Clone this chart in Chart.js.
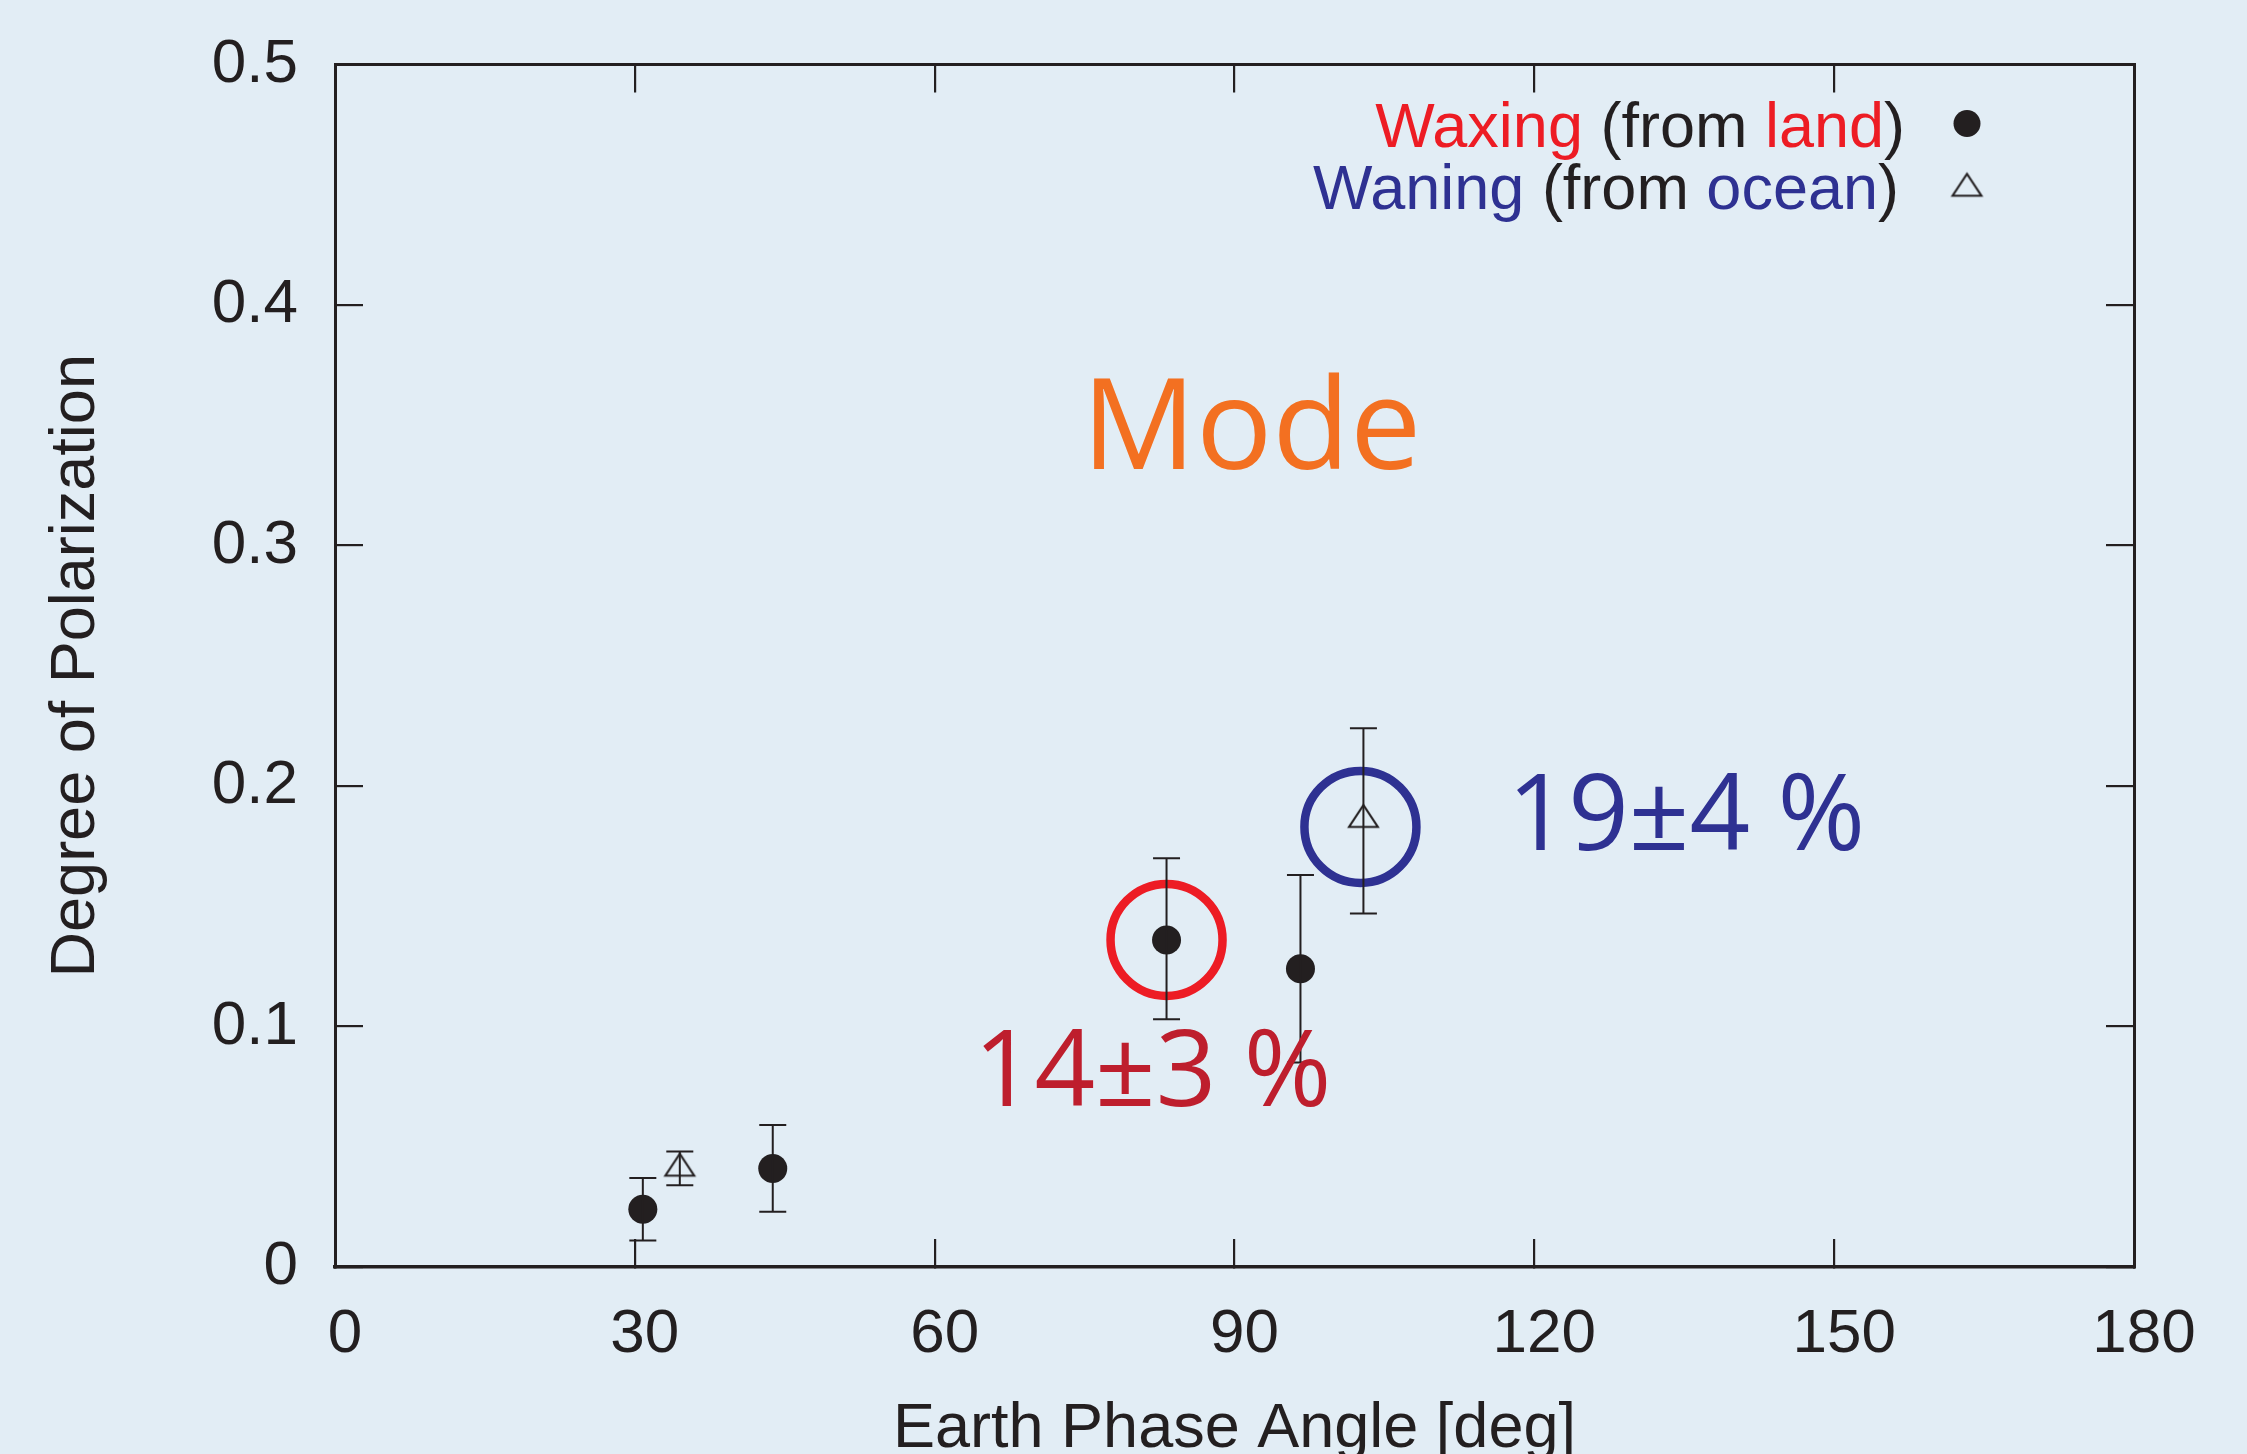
<!DOCTYPE html>
<html>
<head>
<meta charset="utf-8">
<script src="https://cdn.jsdelivr.net/npm/chart.js@4.4.1/dist/chart.umd.min.js"></script>
<style>
  html, body { margin: 0; padding: 0; background: #e2edf5; }
  #polChart { display: block; }
</style>
</head>
<body>
<canvas id="polChart" width="2247" height="1454"></canvas>
<script>
  // axes
  const xTickValues = [0, 30, 60, 90, 120, 150, 180];
  const xTickLabels = ['0', '30', '60', '90', '120', '150', '180'];
  const yTickValues = [0, 0.1, 0.2, 0.3, 0.4, 0.5];
  const yTickLabels = ['0', '0.1', '0.2', '0.3', '0.4', '0.5'];

  // waxing phase (from land) - filled circles
  const waxingAngle = [30.8, 43.8, 83.2, 96.6];
  const waxingDop = [0.024, 0.041, 0.136, 0.124];
  const waxingLow = [0.011, 0.023, 0.103, 0.085];
  const waxingHigh = [0.037, 0.059, 0.170, 0.163];

  // waning phase (from ocean) - open triangles
  const waningAngle = [34.5, 102.9];
  const waningDop = [0.041, 0.186];
  const waningLow = [0.034, 0.147];
  const waningHigh = [0.048, 0.224];

  // highlighted modes (rings + labels)
  const modeAngle = [83.2, 102.6];
  const modeDop = [0.136, 0.183];
  const modeText = ['14±3 %', '19±4 %'];

  const INK = '#231f20';
  const RED = '#ed1c24';
  const BLUE = '#2e3192';
  const HELV = '"Liberation Sans", Arial, Helvetica, sans-serif';
  const MYRIAD = '"Open Sans", "Noto Sans", sans-serif';

  Chart.defaults.font.family = HELV;
  Chart.defaults.color = INK;

  // open triangle marker, centroid sits at the canvas centre
  function makeTriangle(w, h, lw) {
    const c = document.createElement('canvas');
    c.width = Math.ceil(w + 2 * lw + 2);
    c.height = Math.ceil(4 * h / 3 + 2 * lw + 2);
    const g = c.getContext('2d');
    const cx = c.width / 2, cy = c.height / 2;
    g.strokeStyle = INK;
    g.lineWidth = lw;
    g.beginPath();
    g.moveTo(cx, cy - 2 * h / 3);
    g.lineTo(cx + w / 2, cy + h / 3);
    g.lineTo(cx - w / 2, cy + h / 3);
    g.closePath();
    g.stroke();
    return c;
  }
  const triangle = makeTriangle(29, 22, 2);

  const toPoints = (xs, ys) => xs.map((v, i) => ({ x: v, y: ys[i] }));

  // stop label overflow from pushing the plot area around
  const noPad = s => { s.paddingTop = 0; s.paddingBottom = 0; s.paddingLeft = 0; s.paddingRight = 0; };

  // vertical error bars with caps
  const errorBarPlugin = {
    id: 'errorBars',
    afterDatasetsDraw(chart, args, opts) {
      const { ctx, scales: { x, y } } = chart;
      ctx.save();
      ctx.strokeStyle = opts.color;
      ctx.lineWidth = opts.lineWidth;
      opts.sets.forEach(set => {
        set.angle.forEach((a, i) => {
          const px = x.getPixelForValue(a);
          const lo = y.getPixelForValue(set.low[i]);
          const hi = y.getPixelForValue(set.high[i]);
          ctx.beginPath();
          ctx.moveTo(px, lo); ctx.lineTo(px, hi);
          ctx.moveTo(px - opts.cap, lo); ctx.lineTo(px + opts.cap, lo);
          ctx.moveTo(px - opts.cap, hi); ctx.lineTo(px + opts.cap, hi);
          ctx.stroke();
        });
      });
      ctx.restore();
    }
  };

  // legend with coloured words + text annotations
  const notesPlugin = {
    id: 'notes',
    afterDraw(chart, args, opts) {
      const { ctx, chartArea, scales: { x, y } } = chart;
      ctx.save();

      // legend
      ctx.font = `${opts.legendSize}px ${HELV}`;
      ctx.textBaseline = 'alphabetic';
      ctx.textAlign = 'left';
      opts.legend.forEach(row => {
        const total = row.parts.reduce((s, p) => s + ctx.measureText(p[0]).width, 0);
        let cx = chartArea.right - row.endOffset - total;
        const by = chartArea.top + row.baseline;
        row.parts.forEach(p => {
          ctx.fillStyle = p[1];
          ctx.fillText(p[0], cx, by);
          cx += ctx.measureText(p[0]).width;
        });
        const mx = chartArea.right - opts.markerOffset;
        const my = chartArea.top + row.markerY;
        if (row.marker === 'circle') {
          ctx.fillStyle = INK;
          ctx.beginPath();
          ctx.arc(mx, my, 13.5, 0, Math.PI * 2);
          ctx.fill();
        } else {
          ctx.drawImage(triangle, mx - triangle.width / 2, my - triangle.height / 2);
        }
      });

      // "Mode"
      ctx.font = `${opts.mode.size}px ${MYRIAD}`;
      ctx.fillStyle = opts.mode.color;
      ctx.textAlign = 'center';
      ctx.fillText(opts.mode.text, x.getPixelForValue(opts.mode.x), y.getPixelForValue(opts.mode.y));

      // mode values
      ctx.textAlign = 'right';
      opts.values.forEach((v, i) => {
        ctx.font = `${v.size}px ${MYRIAD}`;
        ctx.fillStyle = v.color;
        ctx.fillText(modeText[i], x.getPixelForValue(v.x), y.getPixelForValue(v.y));
      });
      ctx.restore();
    }
  };

  const tickGrid = { drawOnChartArea: false, drawTicks: true, tickLength: -28, color: INK, lineWidth: 2.2 };
  const frame = { display: true, color: INK, width: 3 };

  new Chart(document.getElementById('polChart'), {
    type: 'scatter',
    data: {
      datasets: [
        {
          label: 'Waxing (from land)',
          data: toPoints(waxingAngle, waxingDop),
          pointStyle: 'circle',
          pointRadius: 14.5,
          backgroundColor: INK,
          borderColor: INK,
          pointBorderWidth: 0
        },
        {
          label: 'Waning (from ocean)',
          data: toPoints(waningAngle, waningDop),
          pointStyle: triangle,
          pointRadius: 15
        },
        {
          label: 'Mode',
          data: toPoints(modeAngle, modeDop),
          pointStyle: 'circle',
          pointRadius: 56,
          pointBorderWidth: 8.5,
          pointBorderColor: [RED, BLUE],
          pointBackgroundColor: 'rgba(0,0,0,0)'
        }
      ]
    },
    options: {
      responsive: false,
      animation: false,
      events: [],
      layout: { padding: { top: 64, right: 113, left: 0, bottom: 0 } },
      plugins: {
        legend: { display: false },
        tooltip: { enabled: false },
        errorBars: {
          color: INK,
          lineWidth: 2,
          cap: 13.5,
          sets: [
            { angle: waxingAngle, low: waxingLow, high: waxingHigh },
            { angle: waningAngle, low: waningLow, high: waningHigh }
          ]
        },
        notes: {
          legendSize: 63,
          markerOffset: 167,
          legend: [
            { parts: [['Waxing', RED], [' (from ', INK], ['land', RED], [')', INK]], endOffset: 229, baseline: 82, marker: 'circle', markerY: 59 },
            { parts: [['Waning', BLUE], [' (from ', INK], ['ocean', BLUE], [')', INK]], endOffset: 235, baseline: 144, marker: 'triangle', markerY: 124 }
          ],
          mode: { text: 'Mode', size: 127, color: '#f37021', x: 91.7, y: 0.332 },
          values: [
            { x: 99.7, y: 0.0669, size: 106, color: '#be1e2d' },
            { x: 153.1, y: 0.1733, size: 106, color: BLUE }
          ]
        }
      },
      scales: {
        x: {
          type: 'linear',
          position: 'bottom',
          min: 0,
          max: 180,
          afterBuildTicks: s => { s.ticks = xTickValues.map(v => ({ value: v })); },
          afterFit: s => { s.height = 187; noPad(s); },
          grid: tickGrid,
          border: { display: true, color: INK, width: 3.5 },
          ticks: {
            autoSkip: false,
            maxRotation: 0,
            padding: 59,
            labelOffset: 10,
            color: INK,
            font: { size: 62 },
            callback: (v, i) => xTickLabels[i]
          },
          title: {
            display: true,
            text: 'Earth Phase Angle [deg]',
            color: INK,
            font: { size: 63 },
            padding: { top: 0, bottom: -13 }
          }
        },
        x2: {
          type: 'linear',
          position: 'top',
          min: 0,
          max: 180,
          afterBuildTicks: s => { s.ticks = xTickValues.map(v => ({ value: v })); },
          afterFit: s => { s.height = 0; noPad(s); },
          grid: tickGrid,
          border: frame,
          ticks: { display: false }
        },
        y: {
          type: 'linear',
          position: 'left',
          min: 0,
          max: 0.5,
          afterBuildTicks: s => { s.ticks = yTickValues.map(v => ({ value: v })); },
          afterFit: s => { s.width = 335; noPad(s); },
          grid: tickGrid,
          border: frame,
          ticks: {
            autoSkip: false,
            padding: 65,
            color: INK,
            font: { size: 62 },
            callback: (v, i) => yTickLabels[i]
          },
          title: {
            display: true,
            text: 'Degree of Polarization',
            color: INK,
            font: { size: 63 },
            padding: { top: 39, bottom: 0 }
          }
        },
        y2: {
          type: 'linear',
          position: 'right',
          min: 0,
          max: 0.5,
          afterBuildTicks: s => { s.ticks = yTickValues.map(v => ({ value: v })); },
          afterFit: s => { s.width = 0; noPad(s); },
          grid: tickGrid,
          border: frame,
          ticks: { display: false }
        }
      }
    },
    plugins: [errorBarPlugin, notesPlugin]
  });
</script>
</body>
</html>
